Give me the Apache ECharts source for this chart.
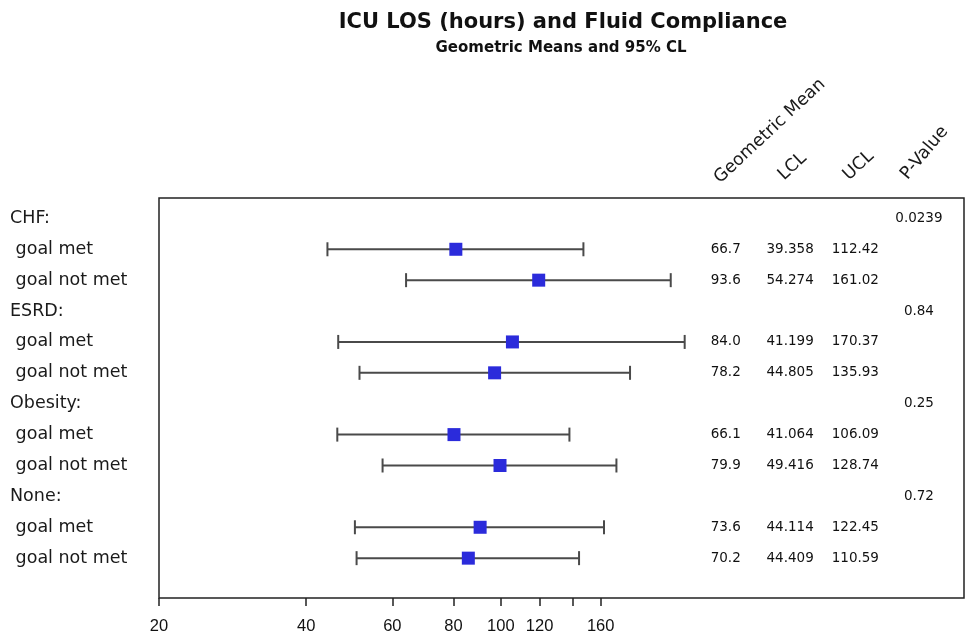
<!DOCTYPE html>
<html>
<head>
<meta charset="utf-8">
<title>ICU LOS (hours) and Fluid Compliance</title>
<script src="https://cdn.jsdelivr.net/npm/echarts@6.0.0/dist/echarts.min.js"></script>
<style>
  html, body { margin: 0; padding: 0; background: #fff; }
  #chart { width: 966px; height: 636px; }
</style>
</head>
<body>
<div id="chart"></div>
<script>
// row labels, top to bottom
const rowLabels = [
  "CHF:", " goal met", " goal not met",
  "ESRD:", " goal met", " goal not met",
  "Obesity:", " goal met", " goal not met",
  "None:", " goal met", " goal not met"
];

// rows that carry an estimate
const estRows = [1, 2, 4, 5, 7, 8, 10, 11];
// plotted values, read against the drawn axis
const plotMean = [80.9, 119.5, 105.6, 97.1, 80.2, 99.6, 90.7, 85.8];
const plotLow = [44.2, 64.0, 46.5, 51.4, 46.3, 57.3, 50.3, 50.7];
const plotHigh = [147.5, 222.5, 237.6, 183.7, 138.1, 172.3, 162.5, 144.5];

// table text
const tableMean = ["66.7", "93.6", "84.0", "78.2", "66.1", "79.9", "73.6", "70.2"];
const tableLCL = ["39.358", "54.274", "41.199", "44.805", "41.064", "49.416", "44.114", "44.409"];
const tableUCL = ["112.42", "161.02", "170.37", "135.93", "106.09", "128.74", "122.45", "110.59"];
const pRows = [0, 3, 6, 9];
const pValues = ["0.0239", "0.84", "0.25", "0.72"];

const headers = ["Geometric Mean", "LCL", "UCL", "P-Value"];
const tickValues = [20, 40, 60, 80, 100, 120, 140, 160];
const tickLabels = [20, 40, 60, 80, 100, 120, 160];

// layout
const FONT = "DejaVu Sans";
const colPos = [0.704, 0.784, 0.865, 0.944]; // table columns, fraction of plot width
const headerAnchor = [[723, 187], [787, 184], [852, 184], [911, 183]];
const headerAngle = [43, 43, 43, 50];

const chart = echarts.init(document.getElementById("chart"), null, { renderer: "canvas" });

const barData = estRows.map((r, i) => [plotLow[i], plotHigh[i], r]);
const meanData = estRows.map((r, i) => [plotMean[i], r]);

const tableData = [];
estRows.forEach((r, i) => {
  tableData.push([colPos[0], r, tableMean[i]]);
  tableData.push([colPos[1], r, tableLCL[i]]);
  tableData.push([colPos[2], r, tableUCL[i]]);
});
pRows.forEach((r, i) => tableData.push([colPos[3], r, pValues[i]]));

const option = {
  backgroundColor: "#fff",
  animation: false,
  textStyle: { fontFamily: FONT },
  grid: {
    left: 159, right: 2, top: 198, bottom: 38,
    show: true, borderColor: "#222", borderWidth: 1.5, backgroundColor: "transparent"
  },
  xAxis: [
    {
      type: "log", logBase: 10, min: 20, max: 885,
      position: "bottom",
      axisLine: { show: false, onZero: false },
      splitLine: { show: false },
      axisTick: { show: true, customValues: tickValues, length: 8, lineStyle: { color: "#222", width: 1.5 } },
      axisLabel: {
        customValues: tickLabels, margin: 20, color: "#111",
        fontFamily: "Liberation Sans", fontSize: 16.5
      }
    },
    {
      type: "value", min: 0, max: 1, show: false
    }
  ],
  yAxis: {
    type: "value", inverse: true, min: -0.66, max: 12.29,
    axisLine: { show: false },
    axisTick: { show: false },
    splitLine: { show: false },
    axisLabel: {
      customValues: rowLabels.map((_, i) => i),
      formatter: (v) => rowLabels[Math.round(v)],
      align: "left", margin: 149,
      color: "#1a1a1a", fontFamily: FONT, fontSize: 17.5
    }
  },
  series: [
    {
      type: "custom",
      xAxisIndex: 0,
      data: barData,
      renderItem: (params, api) => {
        const y = api.value(2);
        const a = api.coord([api.value(0), y]);
        const b = api.coord([api.value(1), y]);
        const h = 7;
        const style = { stroke: "#4a4a4a", lineWidth: 2 };
        return {
          type: "group",
          children: [
            { type: "line", shape: { x1: a[0], y1: a[1], x2: b[0], y2: b[1] }, style },
            { type: "line", shape: { x1: a[0], y1: a[1] - h, x2: a[0], y2: a[1] + h }, style },
            { type: "line", shape: { x1: b[0], y1: b[1] - h, x2: b[0], y2: b[1] + h }, style }
          ]
        };
      },
      z: 2
    },
    {
      type: "scatter",
      xAxisIndex: 0,
      data: meanData,
      symbol: "rect",
      symbolSize: 13,
      itemStyle: { color: "#2b2bdb", opacity: 1 },
      z: 3
    },
    {
      type: "scatter",
      xAxisIndex: 1,
      data: tableData,
      symbolSize: 0,
      itemStyle: { opacity: 1 },
      label: {
        show: true, position: "inside",
        formatter: (p) => p.data[2],
        color: "#111", fontFamily: FONT, fontSize: 13.5
      },
      z: 3
    }
  ],
  graphic: [
    {
      type: "text", x: 563, y: 23,
      style: {
        text: "ICU LOS (hours) and Fluid Compliance",
        font: "bold 21px 'DejaVu Sans'", fill: "#111",
        align: "center", verticalAlign: "middle"
      }
    },
    {
      type: "text", x: 561, y: 48,
      style: {
        text: "Geometric Means and 95% CL",
        font: "bold 15px 'DejaVu Sans'", fill: "#111",
        align: "center", verticalAlign: "middle"
      }
    }
  ].concat(headers.map((t, i) => ({
    type: "text",
    x: headerAnchor[i][0], y: headerAnchor[i][1],
    rotation: headerAngle[i] * Math.PI / 180,
    style: {
      text: t, font: "17.5px 'DejaVu Sans'", fill: "#1a1a1a",
      align: "left", verticalAlign: "bottom"
    }
  })))
};

chart.setOption(option);
</script>
</body>
</html>
